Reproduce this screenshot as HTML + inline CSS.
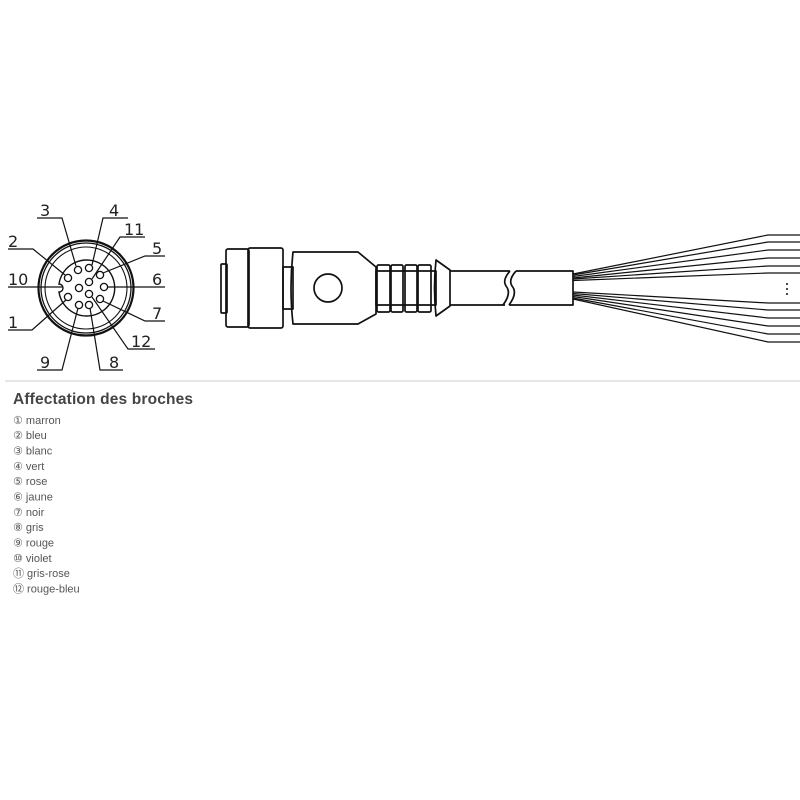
<!DOCTYPE html>
<html><head><meta charset="utf-8"><style>
html,body{margin:0;padding:0;background:#fff;width:800px;height:800px;overflow:hidden}
.t{font-family:"DejaVu Sans","Liberation Sans",sans-serif}
</style></head><body>
<svg width="800" height="800" viewBox="0 0 800 800" xmlns="http://www.w3.org/2000/svg">
<g fill="none" stroke="#111">
<!-- face -->
<circle cx="86" cy="288" r="47.5" stroke-width="2.2"/>
<circle cx="86" cy="288" r="45" stroke-width="1.3"/>
<circle cx="86" cy="288" r="41" stroke-width="1.1"/>
<path d="M59,284 A28,28 0 1 1 59,292 A4,4 0 0 0 59,284 Z" stroke-width="1.4"/>
<g stroke-width="1.3">
<circle cx="78" cy="270" r="3.6"/><circle cx="89" cy="268" r="3.6"/><circle cx="68" cy="278" r="3.6"/>
<circle cx="100" cy="275" r="3.6"/><circle cx="89" cy="282" r="3.6"/><circle cx="79" cy="288" r="3.6"/>
<circle cx="104" cy="287" r="3.6"/><circle cx="89" cy="294" r="3.6"/><circle cx="68" cy="297" r="3.6"/>
<circle cx="100" cy="299" r="3.6"/><circle cx="79" cy="305" r="3.6"/><circle cx="89" cy="305" r="3.6"/>
</g>
<g stroke-width="1.2">
<path d="M37,218H62L76,266"/>
<path d="M128,218H103L92,265"/>
<path d="M145,237H120L92,279"/>
<path d="M8,249H33L65,275"/>
<path d="M165,256H145L103,273"/>
<path d="M8,287H62"/>
<path d="M107,287H165"/>
<path d="M8,330H32L66,300"/>
<path d="M165,321H145L103,301"/>
<path d="M155,349H128L92,297"/>
<path d="M37,370H62L78,308"/>
<path d="M123,370H100L90,308"/>
</g>
<!-- side view -->
<g stroke-width="1.7" stroke-linejoin="round">
<rect x="221" y="264" width="6" height="49" rx="1"/>
<rect x="226" y="249" width="23" height="78" rx="2"/>
<rect x="248" y="248" width="35" height="80" rx="2"/>
<rect x="283" y="267" width="10" height="42"/>
<path d="M293,252H358L376,267V314L358,324H293Q289,288 293,252Z"/>
<circle cx="328" cy="288" r="14"/>
<rect x="376" y="271" width="60" height="34"/>
<rect x="377" y="265" width="13" height="47" rx="1.5"/>
<rect x="391" y="265" width="12" height="47" rx="1.5"/>
<rect x="405" y="265" width="12" height="47" rx="1.5"/>
<rect x="418" y="265" width="13" height="47" rx="1.5"/>
<path d="M436,260L450,270V306L436,316Q433,288 436,260Z"/>
<path d="M450,271H510M450,305H505"/>
<path d="M510,271Q502,280 506,286Q512,293 503,305"/>
<path d="M516,271Q508,280 512,286Q518,293 509,305"/>
<path d="M516,271H573V305H509"/>
</g>
<g stroke-width="1.2">
<path d="M573,274L768,235H800"/>
<path d="M573,275L768,242H800"/>
<path d="M573,276.5L768,250H800"/>
<path d="M573,278L768,258H800"/>
<path d="M573,279L768,266H800"/>
<path d="M573,280.5L768,273H800"/>
<path d="M573,292L768,303H800"/>
<path d="M573,293.5L768,310H800"/>
<path d="M573,295L768,318H800"/>
<path d="M573,296.5L768,326H800"/>
<path d="M573,298L768,334H800"/>
<path d="M573,299L768,342H800"/>
</g>
</g>
<g fill="#111"><circle cx="787" cy="284" r="1"/><circle cx="787" cy="289" r="1"/><circle cx="787" cy="294" r="1"/></g>
<g class="t" font-size="16" fill="#222">
<text x="40" y="216">3</text><text x="109" y="216">4</text><text x="124" y="235">11</text>
<text x="8" y="247">2</text><text x="152" y="254">5</text><text x="8" y="285">10</text>
<text x="152" y="285">6</text><text x="8" y="328">1</text><text x="152" y="319">7</text>
<text x="131" y="347">12</text><text x="40" y="368">9</text><text x="109" y="368">8</text>
</g>
<line x1="5" y1="381" x2="800" y2="381" stroke="#ddd" stroke-width="1.5"/>
<text x="13" y="404" font-family="Liberation Sans,sans-serif" font-weight="bold" font-size="15.5" fill="#444" textLength="180">Affectation des broches</text>
<g font-family="Liberation Sans,'DejaVu Sans',sans-serif" font-size="11" fill="#555">
<text x="13" y="424">① marron</text>
<text x="13" y="439">② bleu</text>
<text x="13" y="454.5">③ blanc</text>
<text x="13" y="470">④ vert</text>
<text x="13" y="485">⑤ rose</text>
<text x="13" y="500.5">⑥ jaune</text>
<text x="13" y="516">⑦ noir</text>
<text x="13" y="531">⑧ gris</text>
<text x="13" y="546.5">⑨ rouge</text>
<text x="13" y="562">⑩ violet</text>
<text x="13" y="577">⑪ gris-rose</text>
<text x="13" y="592.5">⑫ rouge-bleu</text>
</g>
</svg>
</body></html>
